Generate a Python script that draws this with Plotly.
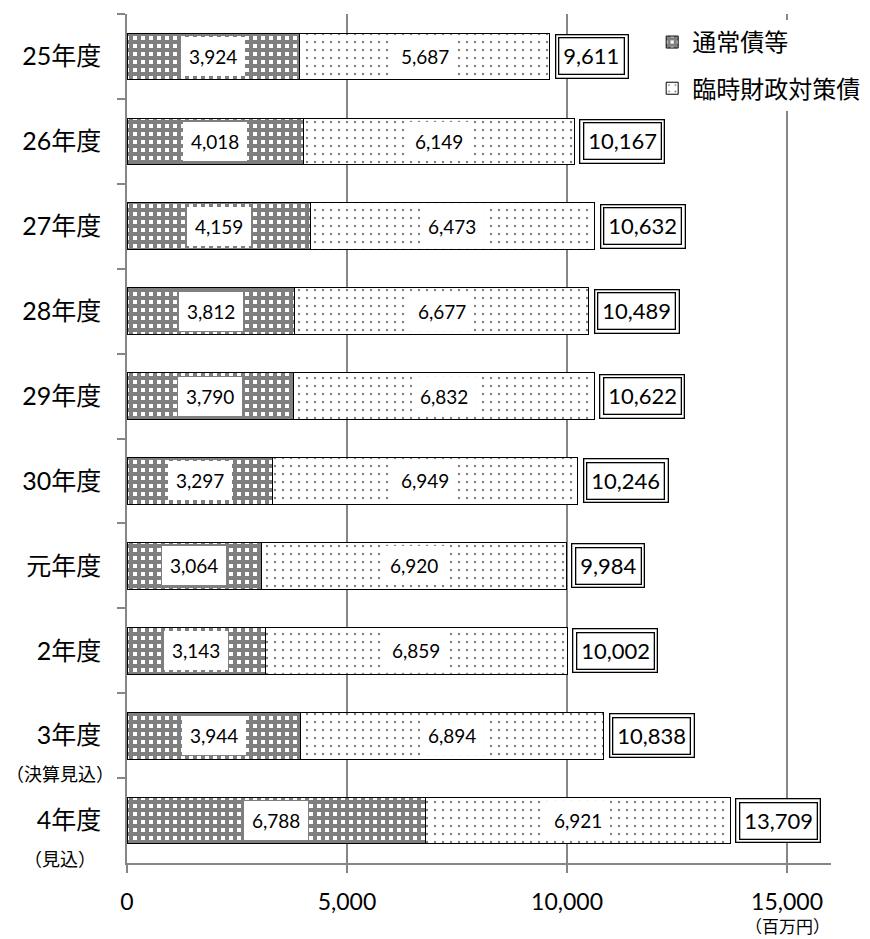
import plotly.graph_objects as go

categories = ["25年度", "26年度", "27年度", "28年度", "29年度", "30年度", "元年度", "2年度", "3年度", "4年度"]
regular_bonds = [3924, 4018, 4159, 3812, 3790, 3297, 3064, 3143, 3944, 6788]
temp_bonds = [5687, 6149, 6473, 6677, 6832, 6949, 6920, 6859, 6894, 6921]
totals = [9611, 10167, 10632, 10489, 10622, 10246, 9984, 10002, 10838, 13709]
sub_labels = {"3年度": "（決算見込）", "4年度": "（見込）"}
series_names = ["通常債等", "臨時財政対策債"]
x_ticks = [0, 5000, 10000, 15000]
unit_label = "（百万円）"

FONT = "Lato, 'Noto Sans CJK JP', sans-serif"
JFONT = "'Noto Sans CJK JP', sans-serif"
GRAY = "#868686"

fig = go.Figure()
fig.add_trace(go.Bar(
    y=categories, x=regular_bonds, orientation="h", name=series_names[0],
    legendgroup="a",
    marker=dict(color="white", line=dict(color="black", width=1),
                pattern=dict(shape="+", fgcolor="black", bgcolor="white", size=8, solidity=0.75)),
    hoverinfo="x+y",
))
fig.add_trace(go.Bar(
    y=categories, x=temp_bonds, orientation="h", name=series_names[1],
    legendgroup="b",
    marker=dict(color="white", line=dict(color="black", width=1),
                pattern=dict(shape=".", fgcolor="black", bgcolor="white", size=8, solidity=0.07)),
    hoverinfo="x+y",
))

annotations = []
for c, a, b, t in zip(categories, regular_bonds, temp_bonds, totals):
    annotations.append(dict(x=a / 2, y=c, xref="x", yref="y", text=f"{a:,}", showarrow=False,
                            font=dict(size=19, color="black", family=FONT),
                            bgcolor="white", borderpad=8, borderwidth=0))
    annotations.append(dict(x=a + b / 2, y=c, xref="x", yref="y", text=f"{b:,}", showarrow=False,
                            font=dict(size=19, color="black", family=FONT),
                            bgcolor="white", borderpad=8, borderwidth=0))
    # double-bordered total label: outer box then inner box
    annotations.append(dict(x=t, y=c, xref="x", yref="y", text=f"{t:,}", showarrow=False,
                            xanchor="left", xshift=5,
                            font=dict(size=22, color="rgba(0,0,0,0)", family=FONT),
                            bgcolor="white", bordercolor="black", borderwidth=1.3, borderpad=7.5))
    annotations.append(dict(x=t, y=c, xref="x", yref="y", text=f"{t:,}", showarrow=False,
                            xanchor="left", xshift=8.5,
                            font=dict(size=22, color="black", family=FONT),
                            bgcolor="white", bordercolor="black", borderwidth=1.3, borderpad=4))

for c, s in sub_labels.items():
    annotations.append(dict(x=-0.095, y=c, xref="paper", yref="y", text=s, showarrow=False,
                            xanchor="center", yshift=-37,
                            font=dict(size=18, color="black", family=JFONT)))

annotations.append(dict(x=15000, y=0, xref="x", yref="paper", text=unit_label, showarrow=False,
                        yanchor="middle", yshift=-62,
                        font=dict(size=17, color="black", family=JFONT)))

fig.update_layout(
    width=870, height=939, autosize=False,
    margin=dict(l=127, r=39, t=14, b=76, autoexpand=False),
    barmode="stack", bargap=0.45,
    plot_bgcolor="white", paper_bgcolor="white",
    font=dict(family=FONT, color="black"),
    legend=dict(x=0.746, y=0.993, xanchor="left", yanchor="top", bgcolor="white",
                font=dict(size=24, color="black", family=JFONT),
                traceorder="grouped", tracegroupgap=12),
    annotations=annotations,
    xaxis=dict(range=[0, 16000], tickvals=x_ticks, tickformat=",", automargin=False,
               showgrid=True, gridcolor=GRAY, gridwidth=1.5, zeroline=False,
               showline=True, linecolor=GRAY, linewidth=1.5,
               ticks="outside", ticklen=8, tickcolor=GRAY, tickwidth=1.5,
               tickfont=dict(size=23, color="black", family=FONT), ticklabelstandoff=10),
    yaxis=dict(categoryorder="array", categoryarray=categories, autorange="reversed",
               automargin=False,
               showline=True, linecolor=GRAY, linewidth=1.5,
               ticks="outside", ticklen=8, tickcolor=GRAY, tickwidth=1.5, tickson="boundaries",
               showgrid=False,
               tickfont=dict(size=25, color="black", family=FONT), ticklabelstandoff=19),
)

fig.write_html(
    "out.html",
    config={"responsive": False, "displayModeBar": False},
    post_script=("document.documentElement.style.overflow='hidden';"
                 "document.body.style.overflow='hidden';"
                 "document.body.style.margin='0px';"),
)
